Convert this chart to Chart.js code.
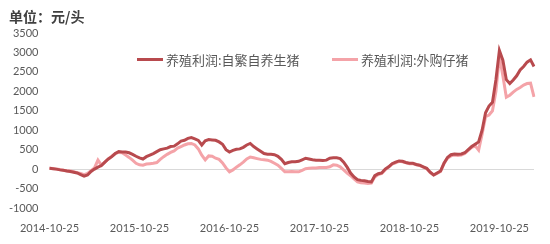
<!DOCTYPE html>
<html>
<head>
<meta charset="utf-8">
<script src="https://cdn.jsdelivr.net/npm/chart.js@4"></script>
<style>
    body { margin: 0; background: #fff; }
    #box { position: relative; width: 550px; height: 244px; }
    #titulo { position: absolute; left: 9px; top: 6px; font: bold 14px "Noto Sans CJK SC", sans-serif; color: #404040; }
    .leg { position: absolute; top: 50px; font: 13px "Noto Sans CJK SC", sans-serif; color: #595959; display: flex; align-items: center; }
    .leg i { display: inline-block; width: 26px; height: 3px; margin-right: 3px; }
</style>
</head>
<body>
<div id="box">
    <canvas id="grafico" width="550" height="244"></canvas>
    <div id="titulo">单位：元/头</div>
    <div class="leg" style="left:137px"><i style="background:#b84a4e"></i>养殖利润:自繁自养生猪</div>
    <div class="leg" style="left:332px"><i style="background:#f4a3a8"></i>养殖利润:外购仔猪</div>
</div>
<script>
const nomesSeries = ['养殖利润:自繁自养生猪', '养殖利润:外购仔猪'];
const rotulosEixo = ['2014-10-25', '2015-10-25', '2016-10-25', '2017-10-25', '2018-10-25', '2019-10-25'];
const passoRotulo = 26; // um ponto a cada duas semanas

const autoCriado = [
    20, 10, 0, -20, -30, -50, -60, -80, -100, -140,
    -180, -150, -60, 0, 50, 90, 180, 260, 320, 400,
    450, 440, 440, 420, 380, 330, 290, 260, 320, 360,
    400, 450, 500, 520, 540, 580, 590, 650, 720, 740,
    790, 810, 780, 740, 620, 730, 760, 750, 740, 700,
    640, 500, 440, 480, 510, 520, 560, 620, 660, 580,
    520, 460, 400, 380, 380, 370, 330, 250, 140, 170,
    190, 190, 200, 240, 280, 260, 240, 230, 230, 220,
    230, 280, 290, 290, 270, 180, 50, -100, -200, -270,
    -290, -300, -320, -330, -170, -120, -100, 0, 60, 140,
    180, 210, 200, 170, 150, 150, 120, 100, 60, 20,
    -80, -150, -100, -50, 150, 300, 370, 390, 380, 390,
    420, 500, 580, 640, 700, 1000, 1450, 1620, 1720, 2300,
    3050, 2800, 2300, 2200, 2290, 2400, 2550, 2640, 2750, 2810,
    2640
];

const comprado = [
    20, 15, 0, -10, -30, -40, -50, -70, -90, -110,
    -140, -110, -40, 30, 230, 100, 180, 260, 330, 400,
    430, 420, 360, 300, 230, 150, 110, 100, 130, 140,
    150, 170, 250, 320, 380, 430, 470, 540, 580, 620,
    650, 660, 620, 520, 360, 240, 340, 330, 280, 250,
    160, 30, -70, -20, 50, 110, 180, 260, 310, 290,
    270, 250, 240, 230, 200, 150, 100, 20, -70, -70,
    -60, -70, -70, -30, 10, 20, 30, 30, 40, 40,
    40, 60, 110, 100, 60, -20, -100, -170, -250, -330,
    -350, -360, -370, -360, -200, -140, -110, -20, 50, 130,
    160, 200, 190, 160, 140, 140, 110, 90, 50, 10,
    -90, -150, -110, -60, 150, 280, 340, 360, 350, 360,
    400, 480, 560, 600, 490, 900, 1350, 1390, 1500, 2000,
    2900, 2400, 1850, 1900, 1980, 2050, 2100, 2160, 2200, 2210,
    1860
];

const categorias = autoCriado.map((_, i) => {
    const d = new Date(Date.UTC(2014, 9, 25 + i * 14));
    return d.toISOString().slice(0, 10);
});

const fonteEixo = { family: 'Lato, "Open Sans", sans-serif', size: 11 };

new Chart(document.getElementById('grafico'), {
    type: 'line',
    data: {
        labels: categorias,
        datasets: [
            { label: nomesSeries[0], data: autoCriado, borderColor: '#b84a4e', borderWidth: 3, pointRadius: 0, tension: 0, order: 1 },
            { label: nomesSeries[1], data: comprado, borderColor: '#f4a3a8', borderWidth: 3, pointRadius: 0, tension: 0, order: 2 }
        ]
    },
    options: {
        responsive: false,
        animation: false,
        layout: { padding: { top: 33, right: 16, bottom: 0, left: 0 } },
        plugins: { legend: { display: false }, tooltip: { enabled: false } },
        scales: {
            x: {
                offset: false,
                border: { display: false },
                grid: { display: false },
                afterFit: (s) => { s.height = 36; },
                ticks: {
                    autoSkip: false,
                    maxRotation: 0,
                    padding: 6,
                    color: '#595959',
                    font: fonteEixo,
                    callback: (v, i) => i % passoRotulo === 0 ? rotulosEixo[i / passoRotulo] : null
                }
            },
            y: {
                min: -1000,
                max: 3500,
                border: { display: false },
                afterFit: (s) => { s.width = 49.5; },
                grid: {
                    drawTicks: false,
                    color: (c) => c.tick && c.tick.value === 0 ? '#d9d9d9' : 'rgba(0,0,0,0)'
                },
                ticks: { stepSize: 500, padding: 11, color: '#595959', font: fonteEixo, callback: (v) => String(v) }
            }
        }
    }
});
</script>
</body>
</html>
